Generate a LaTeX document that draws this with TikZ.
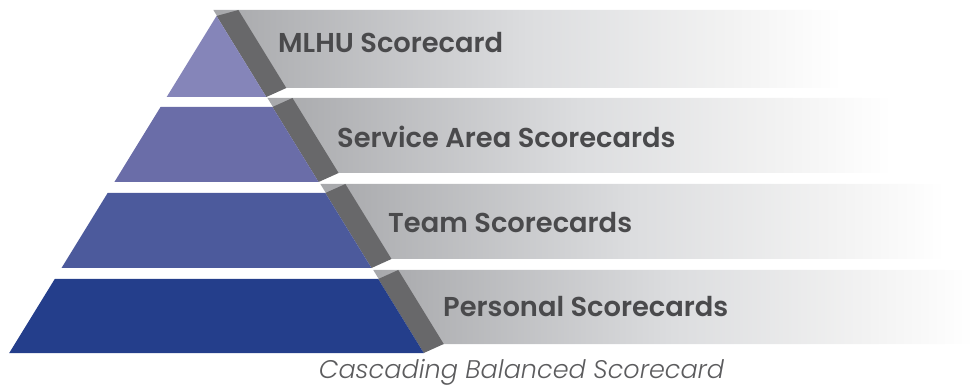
\documentclass[tikz,border=0pt]{standalone}
\usepackage{fontspec}
\setmainfont{Poppins}[BoldFont={Poppins SemiBold},ItalicFont={Poppins Light Italic}]
\definecolor{tierA}{HTML}{8585B9}
\definecolor{tierB}{HTML}{6A6DA8}
\definecolor{tierC}{HTML}{4C5A9C}
\definecolor{tierD}{HTML}{243E8B}
\definecolor{bandgray}{HTML}{68686A}
\definecolor{gA}{HTML}{A7A8AB}
\definecolor{gB}{HTML}{DCDDDF}
\definecolor{gC}{HTML}{F2F2F2}
\definecolor{txt}{HTML}{4A4A4C}
\definecolor{captxt}{HTML}{5C5C5E}
\pgfdeclarehorizontalshading{grayfade}{100bp}{color(0bp)=(gA); color(25bp)=(gA); color(50bp)=(gB); color(66bp)=(gC); color(75bp)=(white); color(100bp)=(white)}
\tikzset{
  lbl/.style={anchor=west, inner sep=0pt, text=txt, font=\fontsize{27.3}{31}\selectfont\bfseries},
  caplbl/.style={anchor=center, inner sep=0pt, text=captxt, font=\fontsize{25.5}{29}\selectfont\itshape},
}
\begin{document}
\begin{tikzpicture}[x=1pt,y=-1pt]
\useasboundingbox (0,0) rectangle (974,387);
% xl(y)=216.5-(y-16)*0.615, xr(y)=216.5+(y-16)*0.615, xs(y)=236.5+(y-7)*0.615
\foreach \yt/\yb/\gt/\gb/\xe/\col in {16/97/10/88/842/tierA, 107/182/98/173/892/tierB, 193/268/184/259/945/tierC, 279/353/270/344/974/tierD}{
  \pgfmathsetmacro{\xlt}{216.5-(\yt-16)*0.615}
  \pgfmathsetmacro{\xrt}{216.5+(\yt-16)*0.615}
  \pgfmathsetmacro{\xlb}{216.5-(\yb-16)*0.615}
  \pgfmathsetmacro{\xrb}{216.5+(\yb-16)*0.615}
  \pgfmathsetmacro{\xst}{236.5+(\gt-7)*0.615}
  \pgfmathsetmacro{\xsb}{236.5+(\gb-7)*0.615}
  \shade[shading=grayfade] (\xst-25,\gt) -- (\xe,\gt) -- (\xe,\gb) -- (\xsb-25,\gb) -- cycle;
  \fill[bandgray] (\xrt,\yt) -- (\xrb,\yb) -- (\xsb,\gb) -- (\xst,\gt) -- cycle;
  \fill[\col] (\xlt,\yt) -- (\xrt,\yt) -- (\xrb,\yb) -- (\xlb,\yb) -- cycle;
}
\node[lbl] (t1) at (278,43) {MLHU Scorecard};
\node[lbl] (t2) at (337,137) {Service Area Scorecards};
\node[lbl] (t3) at (388,223) {Team Scorecards};
\node[lbl] (t4) at (443,307) {Personal Scorecards};
\node[caplbl] (cap) at (521.5,372) {Cascading Balanced Scorecard};
\end{tikzpicture}
\end{document}
